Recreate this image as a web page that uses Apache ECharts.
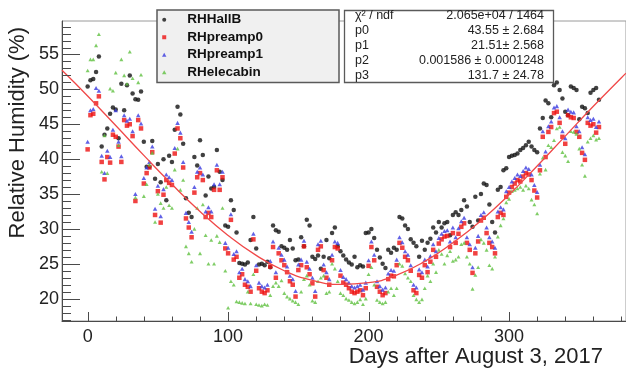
<!DOCTYPE html>
<html><head><meta charset="utf-8">
<script src="https://cdn.jsdelivr.net/npm/echarts@6/dist/echarts.min.js"></script>
<style>html,body{margin:0;padding:0;background:#fff}#c{width:626px;height:372px}</style>
</head><body><div id="c"></div>
<script>
const days = [
0,2,4,6,8,10,12,14,16,18,
20,22,24,26,28,30,32,34,36,38,
40,42,44,46,48,50,52,54,56,58,
60,62,64,66,68,70,72,74,76,78,
80,82,84,86,88,90,92,94,96,98,
100,102,104,106,108,110,112,114,116,118,
120,122,124,126,128,130,132,134,136,138,
140,142,144,146,148,150,152,154,156,158,
160,162,164,166,168,170,172,174,176,178,
180,182,184,186,188,190,192,194,196,198,
200,202,204,206,208,210,212,214,216,218,
220,222,224,226,228,230,232,234,236,238,
240,242,244,246,248,250,252,254,256,258,
260,262,264,266,268,270,272,274,276,278,
280,282,284,286,288,290,292,294,296,298,
300,302,304,306,308,310,312,314,316,318,
320,322,324,326,328,330,332,334,336,338,
340,342,344,346,348,350,352,354,356,358,
360,362,364];

const rhHallB = [
50.4,51.3,51.5,52.5,54.7,41.8,43.5,44.4,46.5,47.4,
47.1,43.0,50.8,47.0,50.6,52.0,49.4,48.6,48.5,49.7,
42.5,38.9,38.9,42.6,37.2,39.3,36.7,40.0,34.1,40.5,
39.6,44.2,47.5,46.4,42.2,34.4,32.3,31.7,40.3,39.1,
42.7,40.6,34.8,37.5,35.8,36.0,41.3,38.2,37.0,30.5,
30.3,34.1,32.7,29.5,25.1,25.0,24.9,25.2,28.4,31.7,
27.2,24.9,25.0,24.8,25.3,24.5,30.5,29.8,29.6,27.5,
27.3,27.0,28.4,27.2,25.5,25.6,28.8,27.5,31.3,30.5,
26.0,25.7,26.2,24.3,26.0,28.4,25.8,29.4,30.2,27.5,
26.8,26.2,25.6,25.2,24.9,26.0,24.5,24.8,24.6,29.4,
29.5,30.0,28.7,27.0,25.9,25.0,24.4,27.0,26.6,27.3,
27.0,31.7,31.5,30.5,30.0,28.5,28.0,27.5,26.0,28.3,
27.0,28.0,28.6,30.2,29.5,31.0,30.2,30.8,31.0,29.1,
32.0,32.4,32.0,32.7,34.1,33.2,31.0,30.3,34.6,31.2,
35.0,36.5,36.3,33.5,31.0,29.5,35.6,36.0,38.4,38.7,
40.3,40.5,40.6,40.8,41.3,41.6,42.0,42.5,41.8,41.3,
41.0,44.4,45.9,48.4,48.0,46.0,50.6,51.0,49.9,48.7,
46.8,46.3,50.4,50.2,49.9,45.7,47.5,47.3,46.6,49.5,
49.9,50.2,48.5];

const rhPreamp0 = [
41.4,46.3,46.5,48.0,49.0,39.6,37.1,40.3,39.5,43.5,
43.2,41.8,39.6,45.6,44.8,45.0,43.3,34.0,45.6,44.4,
36.5,38.0,38.8,41.0,32.0,35.4,30.9,34.9,37.0,36.6,
36.3,40.8,44.4,43.0,38.8,31.5,30.2,28.8,35.2,37.4,
38.0,37.0,31.7,32.3,31.7,35.6,38.4,35.6,37.4,27.2,
26.5,31.3,25.6,26.0,23.0,23.5,22.0,21.7,21.0,28.5,
24.0,21.5,21.0,20.8,21.2,24.6,27.4,23.0,26.5,25.5,
24.8,23.8,22.5,22.0,20.3,24.1,24.8,27.5,24.5,23.5,
22.2,20.3,27.0,27.5,24.1,23.0,22.0,25.5,27.4,27.2,
23.3,22.3,22.0,21.5,21.0,20.8,21.0,21.2,20.5,21.5,
24.7,27.4,25.5,21.7,21.0,20.5,20.8,22.8,23.3,23.2,
24.8,28.0,27.3,26.0,25.5,24.0,21.2,20.8,23.4,23.0,
24.8,23.8,25.3,27.0,26.0,27.9,28.5,28.9,29.0,27.4,
29.4,28.0,29.3,30.3,30.8,28.0,27.0,23.7,26.5,28.2,
31.2,31.6,29.4,28.0,27.4,26.5,31.7,32.3,32.0,34.6,
35.2,36.0,36.5,37.0,36.8,37.5,38.0,37.8,37.0,35.5,
34.5,38.4,43.2,40.3,43.9,44.6,46.6,46.8,45.2,43.2,
42.2,46.3,46.0,45.9,43.9,43.2,40.9,39.9,45.2,44.8,
45.0,43.8,44.6];

const rhPreamp1 = [
42.5,47.0,47.2,50.2,49.8,40.5,38.0,41.2,40.3,44.2,
47.0,42.5,40.4,46.3,45.5,45.8,44.0,35.0,46.3,45.1,
37.3,38.8,39.6,41.8,32.9,36.2,31.8,35.7,37.8,37.4,
37.0,41.6,45.2,43.8,39.6,32.3,31.0,29.6,36.0,38.2,
38.8,37.8,32.5,33.1,32.5,36.4,39.2,36.4,38.2,28.0,
27.3,32.1,26.4,26.8,23.8,24.3,22.8,22.5,21.8,29.3,
24.8,22.3,21.8,21.6,22.0,25.4,28.2,23.8,27.3,26.3,
25.6,24.6,23.3,22.8,21.1,24.9,25.6,28.3,25.3,24.3,
23.0,21.1,27.8,28.3,24.9,23.8,22.8,26.3,28.2,28.0,
24.1,23.1,22.8,22.3,21.8,21.6,21.8,22.0,21.3,22.3,
25.5,28.2,26.3,22.5,21.8,21.3,21.6,23.6,24.1,24.0,
25.6,28.8,28.1,26.8,26.3,24.8,22.0,21.6,24.2,23.8,
25.6,24.6,26.1,27.8,26.8,28.7,29.3,29.7,29.8,28.2,
30.2,28.8,30.1,31.1,31.6,28.8,27.8,24.5,27.3,29.0,
32.0,32.4,30.2,28.8,28.2,27.3,32.5,33.1,32.8,35.4,
36.0,36.8,37.3,37.8,37.6,38.3,38.8,38.6,37.8,36.3,
35.3,39.2,44.0,41.1,44.7,45.4,47.4,47.6,46.0,44.0,
43.0,47.1,46.8,46.7,44.7,44.0,41.7,40.7,46.0,45.6,
45.8,44.6,45.4];

const rhElecabin = [
52.7,54.3,54.3,56.3,57.9,38.2,43.4,38.0,50.1,49.8,
52.4,42.0,54.3,52.0,50.8,55.4,51.6,34.5,51.0,52.1,
34.7,36.4,39.2,40.9,31.0,35.0,33.7,33.0,36.0,33.4,
33.0,38.5,41.5,35.6,37.0,27.5,26.5,25.3,30.0,33.0,
26.5,33.5,29.1,25.0,28.4,25.0,29.0,28.1,33.0,24.0,
18.7,22.5,22.0,19.6,19.5,19.4,19.3,21.0,19.3,23.5,
19.2,19.1,19.0,19.2,19.1,20.5,21.8,22.3,21.8,22.6,
20.8,20.3,20.0,19.7,19.5,19.2,21.0,22.8,23.3,22.0,
19.7,19.5,22.5,23.0,23.3,20.8,21.0,25.0,24.3,22.5,
20.8,20.5,20.0,19.8,19.5,19.3,19.5,19.9,19.2,20.0,
23.5,24.5,22.0,19.8,19.5,19.3,19.5,21.0,21.5,20.5,
21.5,25.0,24.7,23.6,23.0,22.5,20.5,19.9,19.5,19.9,
21.5,23.3,22.5,25.0,23.8,27.0,26.4,25.0,26.2,26.8,
25.4,25.6,26.0,27.8,28.0,26.0,25.0,21.4,23.4,24.5,
28.5,28.0,27.0,24.8,24.3,26.0,28.9,30.5,31.5,33.8,
34.3,35.4,35.6,35.8,36.0,35.6,36.2,35.8,34.2,33.5,
32.2,37.9,40.2,38.5,42.0,41.7,42.7,44.4,44.6,41.0,
40.5,39.7,44.0,43.9,43.6,41.5,39.2,37.6,42.5,43.0,
43.4,42.8,43.0];

// fit curve
const fitDays = [-18.25,0,20,40,60,80,100,120,140,160,180,200,220,240,260,280,300,320,340,360,380,383.25];
const fitValues = [52.73,49.05,44.82,40.54,36.39,32.50,29.06,26.20,24.00,22.62,22.06,22.30,23.38,25.34,28.02,31.18,34.89,39.02,43.30,47.57,51.67,52.32];

const seriesNames = ['RHHallB','RHpreamp0','RHpreamp1','RHelecabin'];
const xMajorTicks = [0,100,200,300];
const xMinorTicks = [-0,20,40,60,80,120,140,160,180,220,240,260,280,320,340,360,380];
const yMajorTicks = [20,25,30,35,40,45,50,55];
const yMinorTicks = [17,18,19,21,22,23,24,26,27,28,29,31,32,33,34,36,37,38,39,41,42,43,44,46,47,48,49,51,52,53,54,56,57,58,59];
const statsLabels = ['\u03c7\u00b2 / ndf','p0','p1','p2','p3'];
const statsValues = ['2.065e+04 / 1464','43.55 \u00b1 2.684','21.51\u00b1 2.568','0.001586 \u00b1 0.0001248','131.7 \u00b1 24.78'];
const xTitle = 'Days after August 3, 2017';
const yTitle = 'Relative Humidity (%)';

const FONT = 'Liberation Sans, Arial, Helvetica, sans-serif';
const X_MIN = -18.25, X_MAX = 383.25, Y_MIN = 16.8, Y_MAX = 59.8;
const SQUARE = 'path://M0,0L10,0L10,10L0,10Z';
const TRI = 'path://M5,0L10,9L0,9Z';
const AXIS_COLOR = '#4a4a4a';

function pts(vals){ return days.map((d,i)=>[d, vals[i]]); }

// tick marks drawn through the axes' own scales
function tickSeries(values, dir, len){
  return {
    type:'custom', silent:true, clip:false, z:5, animation:false,
    data: values.map(v => dir === 'y' ? [X_MIN, v] : [v, Y_MIN]),
    renderItem: function(params, api){
      const p = api.coord([api.value(0), api.value(1)]);
      const shape = dir === 'y'
        ? {x1:p[0], y1:Math.round(p[1])+0.5, x2:p[0]+len, y2:Math.round(p[1])+0.5}
        : {x1:Math.round(p[0])+0.5, y1:p[1], x2:Math.round(p[0])+0.5, y2:p[1]-len};
      return {type:'line', shape:shape, style:{stroke:AXIS_COLOR, lineWidth:1}};
    }
  };
}

const chart = echarts.init(document.getElementById('c'), null, {renderer:'canvas'});

const statsGraphics = [];
const rowY = [16,31,46,61,76];
statsLabels.forEach((t,i)=>{
  statsGraphics.push({type:'text', x:355, y:rowY[i], z:6, style:{text:t, font:'12.5px '+FONT, fill:'#222', textAlign:'left', textVerticalAlign:'middle', align:'left', verticalAlign:'middle'}});
  statsGraphics.push({type:'text', x:544, y:rowY[i], z:6, style:{text:statsValues[i], font:'12.5px '+FONT, fill:'#222', textAlign:'right', textVerticalAlign:'middle', align:'right', verticalAlign:'middle'}});
});

chart.setOption({
  animation:false,
  backgroundColor:'#fff',
  grid:{show:true, left:62, top:21, right:-6, bottom:51, borderColor:'#9a9a9a', borderWidth:1, backgroundColor:'transparent'},
  xAxis:{type:'value', min:X_MIN, max:X_MAX, position:'bottom',
     axisLine:{show:true, onZero:false, lineStyle:{color:AXIS_COLOR, width:1}},
     axisTick:{show:false},
     axisLabel:{show:true, customValues:xMajorTicks, margin:7, fontSize:18, fontFamily:FONT, color:'#222'},
     splitLine:{show:false}},
  yAxis:{type:'value', min:Y_MIN, max:Y_MAX, position:'left',
     axisLine:{show:true, onZero:false, lineStyle:{color:AXIS_COLOR, width:1}},
     axisTick:{show:false},
     axisLabel:{show:true, customValues:yMajorTicks, margin:3, fontSize:18, fontFamily:FONT, color:'#222'},
     splitLine:{show:false}},
  legend:{
    data:seriesNames, orient:'vertical', left:162, top:11, padding:0,
    itemWidth:36, itemHeight:4, itemGap:0, selectedMode:false,
    textStyle:{fontFamily:FONT, fontWeight:'bold', fontSize:13.5, color:'#111', lineHeight:17.5}
  },
  graphic:[
    {type:'rect', z:1, shape:{x:157, y:10, width:182, height:72.5}, style:{fill:'#f0f0f0', stroke:'#5a5a5a', lineWidth:1.5}},
    {type:'rect', z:1, shape:{x:344.5, y:10.5, width:209, height:72}, style:{fill:'#ffffff', stroke:'#5a5a5a', lineWidth:1.3}},
    ...statsGraphics,
    {type:'text', x:18, y:27, rotation:Math.PI/2, z:6, style:{text:yTitle, font:'22px '+FONT, fill:'#222', textAlign:'right', textVerticalAlign:'middle', align:'right', verticalAlign:'middle'}},
    {type:'text', x:603, y:357, z:6, style:{text:xTitle, font:'22px '+FONT, fill:'#222', textAlign:'right', textVerticalAlign:'middle', align:'right', verticalAlign:'middle'}}
  ],
  series:[
    {name:seriesNames[0], type:'scatter', data:pts(rhHallB), symbol:'circle', symbolSize:4.5, itemStyle:{color:'#111111'}, z:2},
    {name:seriesNames[1], type:'scatter', data:pts(rhPreamp0), symbol:SQUARE, symbolKeepAspect:true, symbolSize:4.5, itemStyle:{color:'#ee1111'}, z:2},
    {name:seriesNames[2], type:'scatter', data:pts(rhPreamp1), symbol:TRI, symbolKeepAspect:true, symbolSize:4.5, itemStyle:{color:'#3a3ae0'}, z:2},
    {name:seriesNames[3], type:'scatter', data:pts(rhElecabin), symbol:TRI, symbolKeepAspect:true, symbolSize:4, itemStyle:{color:'#5fc040'}, z:2},
    {name:'fit', type:'line', data:fitDays.map((d,i)=>[d, fitValues[i]]), smooth:true, showSymbol:false, symbol:'none', lineStyle:{color:'#f04848', width:1.3}, z:3, silent:true},
    tickSeries(yMajorTicks, 'y', 18),
    tickSeries(yMinorTicks, 'y', 9),
    tickSeries(xMajorTicks, 'x', 9),
    tickSeries(xMinorTicks, 'x', 4.5)
  ]
});
</script>
</body></html>
